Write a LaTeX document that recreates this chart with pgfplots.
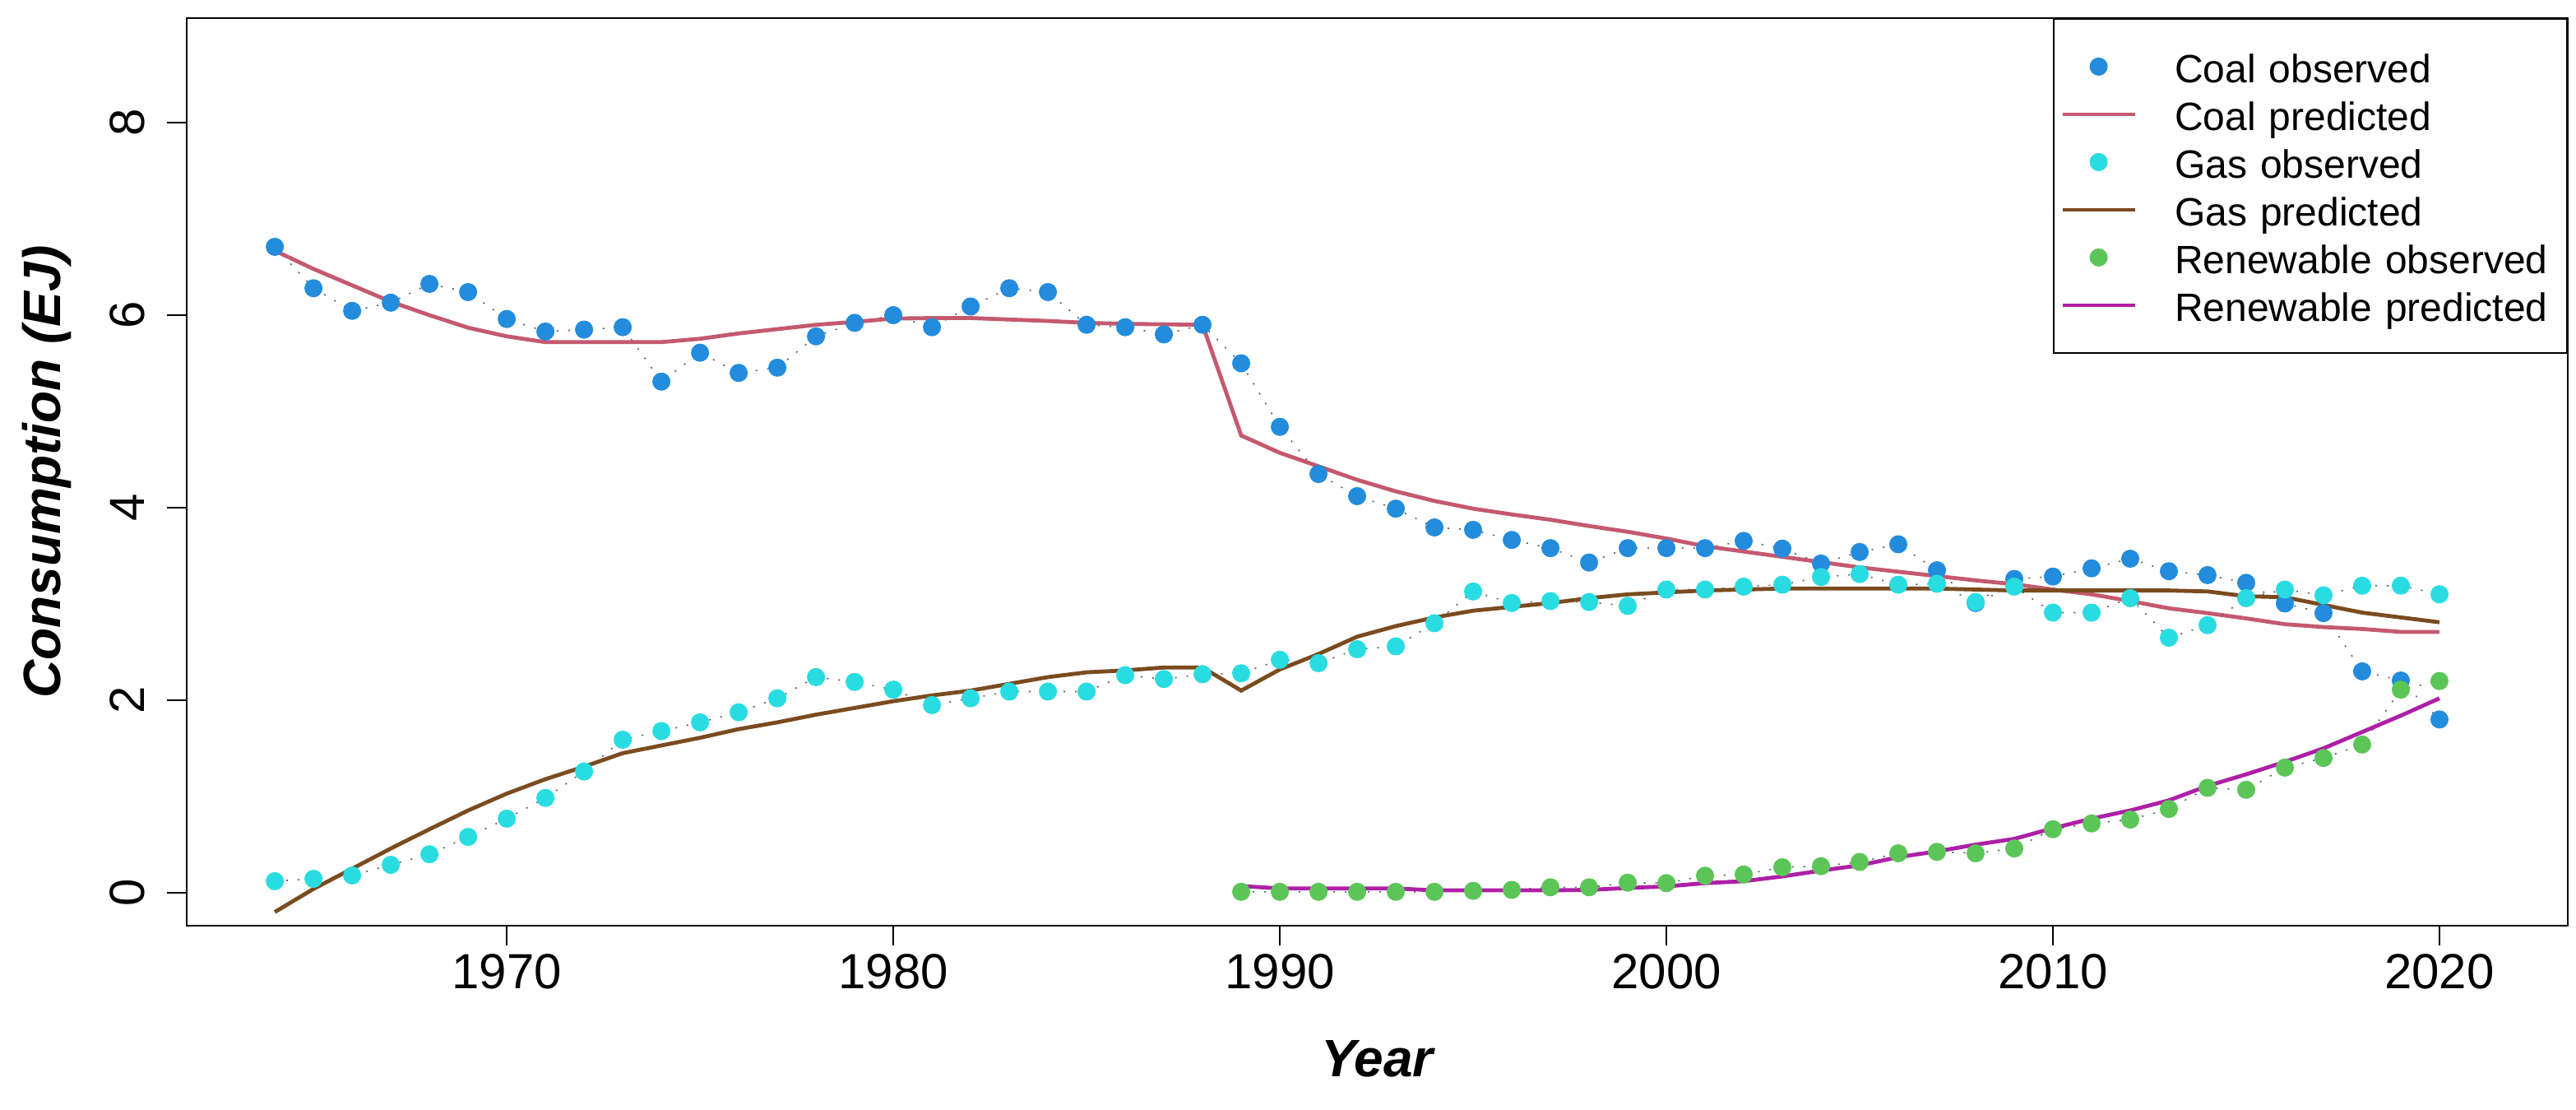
\documentclass[border=0pt]{standalone}
\usepackage{pgfplots}
\pgfplotsset{compat=1.18}
\usepackage{pgfplotstable}
\usepackage{fontspec}
\setmainfont{Liberation Sans}

\definecolor{coalobs}{RGB}{35,140,220}
\definecolor{coalpred}{RGB}{196,89,110}
\definecolor{gasobs}{RGB}{40,220,225}
\definecolor{gaspred}{RGB}{122,75,31}
\definecolor{renobs}{RGB}{92,197,88}
\definecolor{renpred}{RGB}{174,31,166}
\definecolor{dotcol}{RGB}{80,100,110}

% observed series: year value
\pgfplotstableread{
year coal gas
1964 6.71 0.12
1965 6.28 0.145
1966 6.045 0.18
1967 6.13 0.29
1968 6.325 0.40
1969 6.24 0.58
1970 5.96 0.77
1971 5.83 0.985
1972 5.85 1.26
1973 5.875 1.59
1974 5.31 1.68
1975 5.61 1.77
1976 5.40 1.875
1977 5.455 2.02
1978 5.78 2.24
1979 5.92 2.19
1980 6.00 2.11
1981 5.875 1.95
1982 6.09 2.02
1983 6.28 2.09
1984 6.24 2.09
1985 5.90 2.09
1986 5.875 2.26
1987 5.80 2.22
1988 5.90 2.27
1989 5.50 2.28
1990 4.84 2.42
1991 4.35 2.385
1992 4.12 2.53
1993 3.99 2.56
1994 3.795 2.80
1995 3.77 3.13
1996 3.665 3.01
1997 3.58 3.03
1998 3.43 3.02
1999 3.58 2.98
2000 3.58 3.15
2001 3.58 3.15
2002 3.655 3.18
2003 3.575 3.20
2004 3.42 3.28
2005 3.54 3.31
2006 3.62 3.20
2007 3.35 3.21
2008 3.01 3.02
2009 3.26 3.18
2010 3.285 2.91
2011 3.37 2.91
2012 3.47 3.06
2013 3.34 2.65
2014 3.30 2.78
2015 3.22 3.06
2016 3.005 3.15
2017 2.905 3.09
2018 2.30 3.19
2019 2.205 3.19
2020 1.80 3.10
}\observed

% predicted series
\pgfplotstableread{
year coal gas
1964 6.67 -0.20
1965 6.48 0.04
1966 6.31 0.25
1967 6.14 0.46
1968 6.00 0.66
1969 5.87 0.855
1970 5.78 1.03
1971 5.72 1.18
1972 5.72 1.31
1973 5.72 1.45
1974 5.72 1.53
1975 5.755 1.61
1976 5.81 1.70
1977 5.855 1.77
1978 5.90 1.85
1979 5.93 1.92
1980 5.965 1.99
1981 5.97 2.05
1982 5.97 2.10
1983 5.955 2.17
1984 5.94 2.24
1985 5.92 2.29
1986 5.91 2.31
1987 5.905 2.34
1988 5.90 2.34
1989 4.75 2.10
1990 4.57 2.32
1991 4.43 2.48
1992 4.29 2.66
1993 4.17 2.77
1994 4.07 2.86
1995 3.99 2.93
1996 3.93 2.97
1997 3.875 3.01
1998 3.81 3.06
1999 3.75 3.10
2000 3.68 3.12
2001 3.60 3.14
2002 3.545 3.15
2003 3.49 3.16
2004 3.435 3.16
2005 3.38 3.16
2006 3.335 3.16
2007 3.29 3.16
2008 3.245 3.15
2009 3.205 3.14
2010 3.15 3.14
2011 3.10 3.14
2012 3.03 3.14
2013 2.955 3.14
2014 2.905 3.13
2015 2.85 3.08
2016 2.79 3.07
2017 2.76 2.99
2018 2.74 2.91
2019 2.71 2.86
2020 2.71 2.81
}\predicted

\pgfplotstableread{
year obs pred
1989 0.01 0.07
1990 0.01 0.045
1991 0.01 0.045
1992 0.01 0.045
1993 0.01 0.045
1994 0.01 0.025
1995 0.02 0.025
1996 0.03 0.025
1997 0.057 0.025
1998 0.057 0.03
1999 0.105 0.05
2000 0.10 0.066
2001 0.177 0.10
2002 0.19 0.12
2003 0.265 0.17
2004 0.276 0.23
2005 0.32 0.285
2006 0.41 0.37
2007 0.425 0.43
2008 0.41 0.50
2009 0.46 0.56
2010 0.66 0.67
2011 0.72 0.77
2012 0.76 0.855
2013 0.87 0.96
2014 1.09 1.11
2015 1.07 1.23
2016 1.30 1.36
2017 1.40 1.50
2018 1.54 1.67
2019 2.11 1.84
2020 2.20 2.02
}\renewable

\pgfplotsset{
  obs/.style={color=dotcol, dash pattern=on 0.5pt off 3pt, line width=0.4pt,
    mark=*, mark size=2.6pt,
    mark options={solid, draw=#1, fill=#1, line width=0.3pt},
    legend image code/.code={\path[draw=none] (0pt,0pt) -- (22pt,0pt);
      \path[##1, draw=none] plot coordinates {(11pt,0pt)};}},
  pred/.style={color=#1, line width=1.2pt, mark=none,
    legend image code/.code={\draw[##1] (0pt,0pt) -- (22pt,0pt);}},
}

\begin{document}
\begin{tikzpicture}
\begin{axis}[name=ax,
  scale only axis, width=723.75pt, height=275.875pt,
  xmin=1961.72, xmax=2023.32, ymin=-0.342, ymax=9.09,
  xtick={1970,1980,...,2020}, ytick={0,2,...,8},
  tick pos=left, tick align=outside, major tick length=6pt,
  axis line style={line width=0.5pt},
  every tick/.style={black, line width=0.5pt},
  /pgf/number format/assume math mode=true,
  /pgf/number format/1000 sep={},
  tick label style={font=\fontsize{15}{18}\selectfont},
  yticklabel style={rotate=90, anchor=south},
  yticklabel shift=3.25pt,
  xticklabel shift=-1pt,
  xlabel={Year}, ylabel={Consumption (EJ)},
  xlabel style={at={(axis description cs:0.5,-0.1468)}, anchor=center,
    font=\fontsize{16}{19}\selectfont\bfseries\itshape},
  ylabel style={at={(axis description cs:-0.0586,0.5)}, anchor=center,
    font=\fontsize{16}{19}\selectfont\bfseries\itshape},
  legend cell align=left,
  legend style={at={(1,1)}, anchor=north east, draw=black, line width=0.5pt,
    fill=white, font=\fontsize{12}{14}\selectfont,
    inner xsep=2pt, inner ysep=7.35pt, row sep=0pt,
    nodes={inner sep=0pt, text height=12.2pt, text depth=2.3pt,
      text width=117.25pt, align=left},
    /tikz/every odd column/.style={column sep=11.5pt}},
]
\addplot[obs=coalobs] table[x=year, y=coal] {\observed};
\addlegendentry{Coal observed}
\addplot[pred=coalpred] table[x=year, y=coal] {\predicted};
\addlegendentry{Coal predicted}
\addplot[obs=gasobs] table[x=year, y=gas] {\observed};
\addlegendentry{Gas observed}
\addplot[pred=gaspred] table[x=year, y=gas] {\predicted};
\addlegendentry{Gas predicted}
\addplot[obs=renobs] table[x=year, y=obs] {\renewable};
\addlegendentry{Renewable observed}
\addplot[pred=renpred] table[x=year, y=pred] {\renewable};
\addlegendentry{Renewable predicted}
\end{axis}
\pgfresetboundingbox
\path[use as bounding box] ([xshift=-56.75pt,yshift=-55.75pt]ax.south west)
  rectangle ++(783pt,337pt);
\end{tikzpicture}
\end{document}
